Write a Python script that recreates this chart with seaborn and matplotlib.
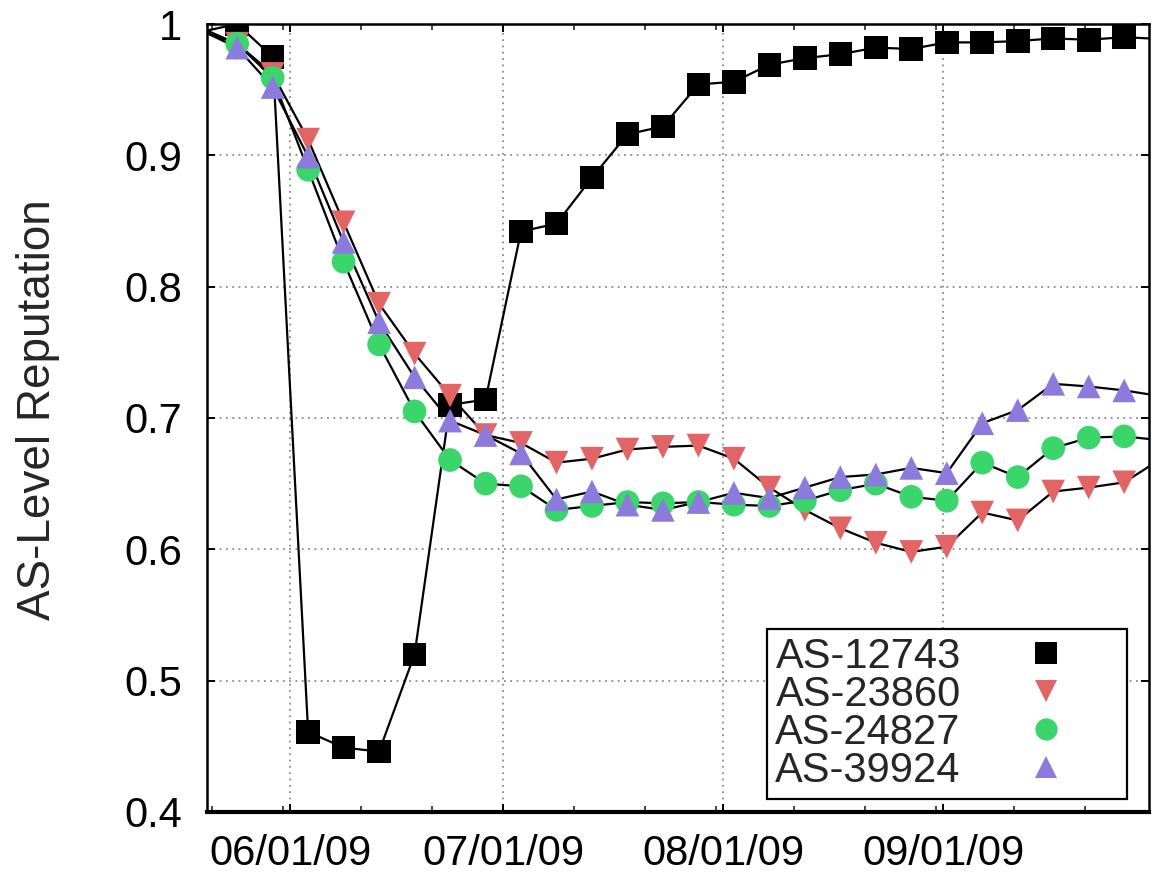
import matplotlib
matplotlib.use("Agg")
import pandas as pd
import matplotlib.pyplot as plt
import matplotlib.dates as mdates
from matplotlib.lines import Line2D
from matplotlib.ticker import FixedLocator, FixedFormatter
import seaborn as sns

# Sample dates (one reputation estimate every five days)
dates = [
    "2009-05-24 12:00", "2009-05-29 12:00", "2009-06-03 12:00", "2009-06-08 12:00",
    "2009-06-13 12:00", "2009-06-18 12:00", "2009-06-23 12:00", "2009-06-28 12:00",
    "2009-07-03 12:00", "2009-07-08 12:00", "2009-07-13 12:00", "2009-07-18 12:00",
    "2009-07-23 12:00", "2009-07-28 12:00", "2009-08-02 12:00", "2009-08-07 12:00",
    "2009-08-12 12:00", "2009-08-17 12:00", "2009-08-22 12:00", "2009-08-27 12:00",
    "2009-09-01 12:00", "2009-09-06 12:00", "2009-09-11 12:00", "2009-09-16 12:00",
    "2009-09-21 12:00", "2009-09-26 12:00",
]

as_12743 = [1.000, 0.975, 0.461, 0.449, 0.446, 0.520, 0.710, 0.714, 0.842, 0.848,
            0.883, 0.916, 0.922, 0.954, 0.956, 0.969, 0.974, 0.977, 0.982, 0.981,
            0.986, 0.986, 0.987, 0.989, 0.988, 0.990]
as_23860 = [0.985, 0.962, 0.912, 0.849, 0.787, 0.749, 0.717, 0.687, 0.681, 0.666,
            0.669, 0.676, 0.678, 0.679, 0.669, 0.647, 0.630, 0.616, 0.605, 0.598,
            0.602, 0.628, 0.622, 0.644, 0.647, 0.651]
as_24827 = [0.985, 0.959, 0.889, 0.819, 0.756, 0.705, 0.668, 0.650, 0.648, 0.630,
            0.633, 0.636, 0.635, 0.636, 0.634, 0.633, 0.637, 0.645, 0.650, 0.640,
            0.637, 0.666, 0.655, 0.677, 0.685, 0.686]
as_39924 = [0.982, 0.952, 0.899, 0.834, 0.773, 0.731, 0.698, 0.687, 0.673, 0.638,
            0.644, 0.634, 0.630, 0.636, 0.643, 0.639, 0.647, 0.655, 0.657, 0.662,
            0.658, 0.696, 0.706, 0.726, 0.724, 0.721]

series_names = ["AS-12743", "AS-23860", "AS-24827", "AS-39924"]
series_values = [as_12743, as_23860, as_24827, as_39924]
marker_colors = ["#000000", "#E36464", "#3AD66C", "#8C7ADD"]
marker_shapes = ["s", "v", "o", "^"]

# Curve values where each line meets the left and right frame
x_range = ["2009-05-20 06:00", "2009-09-30 00:00"]
line_start = [0.995, 0.995, 0.993, 0.993]
line_end = [0.989, 0.663, 0.684, 0.718]

y_ticks = [0.4, 0.5, 0.6, 0.7, 0.8, 0.9, 1.0]
y_tick_labels = ["0.4", "0.5", "0.6", "0.7", "0.8", "0.9", "1"]

# ---- tidy tables -------------------------------------------------------
point_rows, line_rows = [], []
for name, vals, y0, y1 in zip(series_names, series_values, line_start, line_end):
    line_rows.append((pd.Timestamp(x_range[0]), y0, name))
    for d, v in zip(dates, vals):
        point_rows.append((pd.Timestamp(d), v, name))
        line_rows.append((pd.Timestamp(d), v, name))
    line_rows.append((pd.Timestamp(x_range[1]), y1, name))
points = pd.DataFrame(point_rows, columns=["date", "value", "series"])
lines = pd.DataFrame(line_rows, columns=["date", "value", "series"])

sns.set_theme(style="ticks")
plt.rcParams["font.family"] = ["Liberation Sans", "DejaVu Sans"]
plt.rcParams["font.size"] = 30

fig = plt.figure(figsize=(11.52, 8.76), dpi=100)
ax = fig.add_axes([0.1797, 0.0731, 0.8177, 0.8995])

sns.lineplot(data=lines, x="date", y="value", hue="series",
             palette={n: "black" for n in series_names}, linewidth=1.6,
             estimator=None, legend=False, ax=ax, zorder=2)
sns.scatterplot(data=points, x="date", y="value", hue="series", style="series",
                palette=dict(zip(series_names, marker_colors)),
                markers=dict(zip(series_names, marker_shapes)),
                s=290, linewidth=0, legend=False, ax=ax, zorder=3)

ax.set_xlim(pd.Timestamp(x_range[0]), pd.Timestamp(x_range[1]))
ax.set_ylim(0.4, 1.0)

ax.xaxis.set_major_locator(mdates.MonthLocator(bymonthday=1))
ax.xaxis.set_major_formatter(mdates.DateFormatter("%m/%d/%y"))
ax.xaxis.set_minor_locator(mdates.DayLocator(bymonthday=[11, 21, 31]))
ax.yaxis.set_major_locator(FixedLocator(y_ticks))
ax.yaxis.set_major_formatter(FixedFormatter(y_tick_labels))

ax.tick_params(axis="both", which="major", direction="in", length=6, width=1.4,
               top=True, right=True, labelsize=30, colors="black")
ax.tick_params(axis="x", which="major", pad=16)
ax.tick_params(axis="y", which="major", pad=18)
ax.tick_params(axis="x", which="minor", direction="in", length=4, width=1.2,
               top=True, bottom=True)

ax.grid(True, which="major", color="#8a8a8a", linestyle=(0, (1, 2.5)), linewidth=1.3)
ax.set_axisbelow(True)

for side in ["left", "right", "top"]:
    ax.spines[side].set_linewidth(1.8)
    ax.spines[side].set_color("black")
ax.spines["bottom"].set_linewidth(3)
ax.spines["bottom"].set_color("black")

ax.set_xlabel("")
ax.set_ylabel("AS-Level Reputation", fontsize=33)
ax.yaxis.set_label_coords(-0.156, 0.51)

handles = [Line2D([], [], linestyle="none", marker=m, markersize=16,
                  markerfacecolor=c, markeredgewidth=0, color=c)
           for m, c in zip(marker_shapes, marker_colors)]
leg = ax.legend(handles, series_names, loc="lower right",
                bbox_to_anchor=(0.977, 0.0165), borderaxespad=0,
                markerfirst=False, fontsize=30, frameon=True, fancybox=False,
                framealpha=1, edgecolor="black", borderpad=0.2,
                labelspacing=-0.05, handlelength=3.5, handletextpad=0.3)
leg.get_frame().set_linewidth(1.6)

fig.savefig("out.png", dpi=100, facecolor="white")
